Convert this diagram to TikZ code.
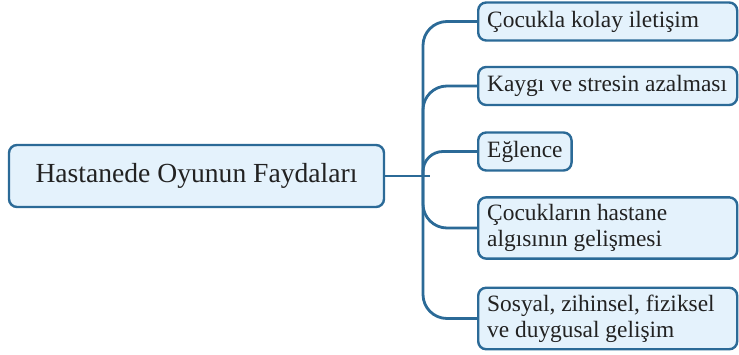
\documentclass[tikz,border=0pt]{standalone}
\usepackage{fontspec}
\setmainfont{Liberation Serif}
\usetikzlibrary{positioning}
\definecolor{edge}{HTML}{2B6A97}
\definecolor{boxfill}{HTML}{E4F2FC}
\definecolor{ink}{HTML}{222222}

\begin{document}
\begin{tikzpicture}[x=1pt,y=-1pt,
 box/.style={draw=edge,fill=boxfill,line width=2.4pt,rounded corners=8pt,text=ink},
 leaf/.style={box,anchor=west,font=\fontsize{23.4}{26}\selectfont,inner xsep=9pt,inner ysep=7pt,minimum height=38pt,align=flush left},
 link/.style={edge,line width=2.8pt}]
\useasboundingbox (0,0) rectangle (739,355);
% root
\node[box,font=\fontsize{27.6}{30}\selectfont,minimum width=375pt,minimum height=62pt] (root) at (196.5,176) {Hastanede Oyunun Faydaları};
% leaves
\node[leaf,text width=241pt] (comm) at (477,21.5) {Çocukla kolay iletişim};
\node[leaf,text width=241pt] (calm) at (477,86) {Kaygı ve stresin azalması};
\node[leaf] (fun) at (477,151.5) {Eğlence};
\node[leaf,text width=241pt] (view) at (477,228) {Çocukların hastane\\algısının gelişmesi};
\node[leaf,text width=241pt] (grow) at (477,318.5) {Sosyal, zihinsel, fiziksel\\ve duygusal gelişim};
% links
\coordinate (hub) at (423,176);
\coordinate (stub) at (430,176);
\draw[link] (root.east) -- (stub);
\foreach \n in {comm,calm,view,grow}
  \draw[link,rounded corners=24pt] (hub) |- (\n.west);
\draw[link,rounded corners=20pt] (hub) |- (fun.west);
\end{tikzpicture}
\end{document}
